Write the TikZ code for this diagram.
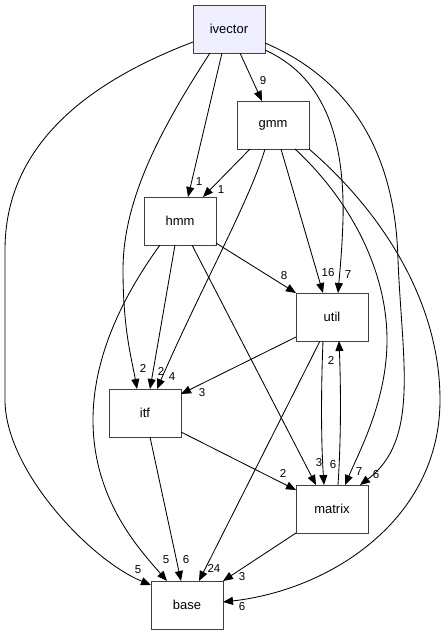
\documentclass[tikz,border=0pt]{standalone}
\usepackage{fontspec}
\setmainfont{Liberation Sans}
\usetikzlibrary{arrows.meta}
\definecolor{dirfill}{HTML}{EEEEFF}
\definecolor{boxline}{HTML}{404040}
\tikzset{
  dirbox/.style={draw=boxline, line width=0.9pt, minimum width=72pt, minimum height=48pt, inner sep=0pt, outer sep=0pt, font=\fontsize{13}{15}\selectfont},
  edge/.style={line width=0.85pt, -{Triangle[length=10pt,width=8pt]}},
  elabel/.style={inner sep=0pt, font=\fontsize{11.5}{13}\selectfont}
}
\begin{document}
\begin{tikzpicture}[x=1pt,y=-1pt]
\useasboundingbox (0,0) rectangle (447,635);
% nodes
\node[dirbox, fill=dirfill] (ivector) at (229,29) {ivector};
\node[dirbox] (gmm) at (273,125) {gmm};
\node[dirbox] (hmm) at (180,221) {hmm};
\node[dirbox] (util) at (332,317) {util};
\node[dirbox] (itf) at (145,413) {itf};
\node[dirbox] (matrix) at (332,509) {matrix};
\node[dirbox] (base) at (187,605) {base};
% edges
\draw[edge] ([xshift=11pt]ivector.south) -- ([xshift=-11pt]gmm.north);
\draw[edge] ([xshift=-7pt]ivector.south) -- ([xshift=8pt]hmm.north);
\draw[edge] ([xshift=-23pt]gmm.south) -- ([xshift=23pt]hmm.north);
\draw[edge] ([xshift=-19pt]ivector.south) .. controls (160,130) and (123,200) .. (123,270) .. controls (123,330) and (132,360) .. ([xshift=-8pt]itf.north);
\draw[edge] ([xshift=-5pt]hmm.south) -- ([xshift=5pt]itf.north);
\draw[edge] ([xshift=-8pt]gmm.south) .. controls (250,200) and (200,290) .. ([xshift=12pt]itf.north);
\draw[edge] ([yshift=-20pt]util.west) -- ([yshift=19pt]itf.east);
\draw[edge] ([yshift=-22pt]hmm.east) -- (util.north west);
\draw[edge] ([xshift=8pt]gmm.south) -- ([xshift=-9pt]util.north);
\draw[edge] ([yshift=-21pt]ivector.east) .. controls (320,75) and (345,130) .. (343,220) .. controls (342,250) and (340,270) .. ([xshift=6pt]util.north);
\draw[edge] ([xshift=-9pt]util.south) .. controls (321,390) and (321,440) .. ([xshift=-8pt]matrix.north);
\draw[edge] ([xshift=6pt]matrix.north) .. controls (341,440) and (341,390) .. ([xshift=7pt]util.south);
\draw[edge] ([xshift=12pt]hmm.south) -- ([xshift=-16pt]matrix.north);
\draw[edge] ([xshift=22pt]gmm.south) .. controls (350,200) and (387,270) .. (387,340) .. controls (387,400) and (360,450) .. ([xshift=13pt]matrix.north);
\draw[edge] ([yshift=-14pt]ivector.east) .. controls (340,75) and (395,140) .. (398,260) .. controls (402,360) and (420,440) .. ([xshift=28pt]matrix.north);
\draw[edge] ([yshift=-19pt]itf.east) -- ([yshift=19pt]matrix.west);
\draw[edge] ([xshift=5pt]itf.south) -- ([xshift=-6pt]base.north);
\draw[edge] ([xshift=-20pt]hmm.south) .. controls (120,300) and (93,360) .. (93,420) .. controls (93,500) and (140,550) .. ([xshift=-20pt]base.north);
\draw[edge] ([yshift=-13pt]ivector.west) .. controls (80,85) and (5,150) .. (5,250) -- (5,400) .. controls (5,470) and (90,560) .. ([yshift=20pt]base.west);
\draw[edge] ([xshift=-12pt]util.south) -- ([xshift=12pt]base.north);
\draw[edge] (matrix.south west) -- (base.north east);
\draw[edge] (gmm.south east) .. controls (380,210) and (440,300) .. (440,400) .. controls (440,520) and (330,590) .. ([yshift=3pt]base.east);
% labels
\node[elabel] (l9) at (263,81) {9};
\node[elabel] (l1a) at (199,182) {1};
\node[elabel] (l1b) at (221,190) {1};
\node[elabel] (l2a) at (143,368) {2};
\node[elabel] (l2b) at (161,371) {2};
\node[elabel] (l4) at (172,377) {4};
\node[elabel] (l3a) at (202,393) {3};
\node[elabel] (l8) at (284,276) {8};
\node[elabel] (l16) at (328,273) {16};
\node[elabel] (l7a) at (348,275) {7};
\node[elabel] (l6a) at (333,465) {6};
\node[elabel] (l2c) at (331,360) {2};
\node[elabel] (l3b) at (319,463) {3};
\node[elabel] (l7b) at (359,472) {7};
\node[elabel] (l6b) at (376,475) {6};
\node[elabel] (l2d) at (283,473) {2};
\node[elabel] (l5a) at (138,570) {5};
\node[elabel] (l5b) at (166,560) {5};
\node[elabel] (l6c) at (186,560) {6};
\node[elabel] (l24) at (214,568) {24};
\node[elabel] (l3c) at (242,577) {3};
\node[elabel] (l6d) at (242,607) {6};
\end{tikzpicture}
\end{document}
